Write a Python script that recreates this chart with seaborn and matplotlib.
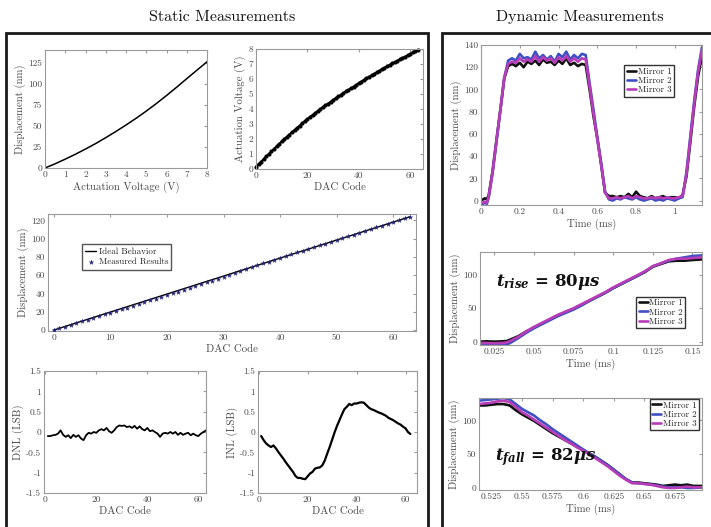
import numpy as np
import pandas as pd
import matplotlib
matplotlib.use("Agg")
import matplotlib.pyplot as plt
from matplotlib.patches import Rectangle
import seaborn as sns

# ---------------- data ----------------
volt_axis = [0, 0.5, 1, 1.5, 2, 2.5, 3, 3.5, 4, 4.5, 5, 5.5, 6, 6.5, 7, 7.5, 8]
disp_vs_volt = [0, 5, 10.5, 16.3, 22.5, 29, 36, 43.3, 51, 59, 67.5, 76.5, 86, 95.8, 106, 116, 126]

dac_codes = list(range(64))
volt_vs_code = [0.15, 0.33, 0.5, 0.67, 0.84, 1.0, 1.17, 1.34, 1.51, 1.67, 1.84, 2.0, 2.15, 2.30,
                2.45, 2.60, 2.75, 2.90, 3.05, 3.19, 3.33, 3.47, 3.60, 3.73, 3.87, 4.0, 4.12, 4.24,
                4.36, 4.48, 4.60, 4.72, 4.84, 4.95, 5.06, 5.17, 5.28, 5.39, 5.50, 5.61, 5.72, 5.83,
                5.95, 6.05, 6.15, 6.25, 6.35, 6.45, 6.55, 6.65, 6.75, 6.85, 6.95, 7.04, 7.13, 7.22,
                7.31, 7.40, 7.49, 7.58, 7.67, 7.77, 7.86, 7.95]

ideal_codes = [0, 63]
ideal_disp = [0, 124.1]
measured_disp = [0, 1.8, 3.7, 5.6, 7.5, 9.4, 11.4, 13.3, 15.2, 17.1, 19.0, 20.9, 22.8, 24.7, 26.6,
                 28.5, 30.5, 32.5, 34.4, 36.3, 38.3, 40.3, 42.2, 44.2, 46.1, 48.1, 50.1, 52.1, 54.2,
                 56.3, 58.4, 60.6, 62.6, 64.7, 66.8, 68.9, 70.9, 72.9, 74.9, 76.9, 78.9, 80.9, 82.9,
                 84.9, 86.8, 88.8, 90.7, 92.7, 94.7, 96.6, 98.6, 100.6, 102.5, 104.5, 106.5, 108.5,
                 110.4, 112.4, 114.4, 116.3, 118.3, 120.2, 122.2, 124.1]

dnl_codes = list(range(1, 64))
dnl = [-0.1, -0.1, -0.08, -0.07, -0.04, 0.04, -0.07, -0.12, -0.08, -0.15, -0.07, -0.12, -0.08,
       -0.16, -0.2, -0.08, -0.02, -0.04, 0.0, -0.02, 0.04, 0.07, 0.04, 0.1, 0.02, -0.02, 0.04,
       0.12, 0.16, 0.15, 0.16, 0.12, 0.14, 0.1, 0.15, 0.08, 0.14, 0.07, 0.04, 0.1, 0.02, 0.04,
       0.0, -0.04, -0.12, -0.04, -0.02, -0.04, 0.0, -0.04, 0.0, -0.07, -0.02, -0.07, -0.04,
       -0.02, -0.08, -0.04, -0.08, -0.1, -0.04, 0.0, 0.04]

inl_codes = list(range(1, 63))
inl = [-0.1, -0.2, -0.28, -0.33, -0.37, -0.33, -0.4, -0.49, -0.57, -0.65, -0.74, -0.82, -0.9,
       -0.98, -1.08, -1.13, -1.13, -1.15, -1.16, -1.09, -1.02, -0.98, -0.9, -0.88, -0.87, -0.82,
       -0.7, -0.53, -0.37, -0.19, -0.01, 0.15, 0.29, 0.43, 0.56, 0.62, 0.69, 0.66, 0.70, 0.70,
       0.72, 0.73, 0.72, 0.66, 0.6, 0.56, 0.54, 0.51, 0.48, 0.46, 0.43, 0.40, 0.35, 0.32, 0.29,
       0.25, 0.21, 0.18, 0.13, 0.09, 0.0, -0.05]

mirror_names = ["Mirror 1", "Mirror 2", "Mirror 3"]
mirror_colors = ["#111111", "#3f4fc4", "#b83cb8"]

t_full = [0, 0.01, 0.02, 0.03, 0.04, 0.06, 0.08, 0.1, 0.12, 0.14, 0.16, 0.18, 0.2, 0.22, 0.24,
          0.26, 0.28, 0.3, 0.32, 0.34, 0.36, 0.38, 0.4, 0.42, 0.44, 0.46, 0.48, 0.5, 0.52, 0.54,
          0.56, 0.58, 0.6, 0.62, 0.64, 0.66, 0.68, 0.7, 0.72, 0.74, 0.76, 0.78, 0.8, 0.82, 0.84,
          0.86, 0.88, 0.9, 0.92, 0.94, 0.96, 0.98, 1.0, 1.02, 1.04, 1.06, 1.08, 1.1, 1.12, 1.14]
full_m1 = [0, 1, 2, 1, 5, 27, 55, 82, 110, 121, 123, 121, 124, 120, 125, 123, 126, 122, 127, 124,
           125, 122, 126, 123, 128, 122, 124, 121, 123, 122, 100, 76, 56, 32, 7, 4, 4, 3, 4, 3,
           6, 3, 8, 4, 3, 2, 4, 2, 3, 4, 2, 3, 3, 2, 5, 22, 53, 85, 112, 130]
full_m2 = [-3, -3, -2, -3, 3, 25, 53, 81, 110, 126, 128, 126, 132, 128, 129, 127, 134, 128, 131,
           127, 130, 125, 132, 129, 134, 127, 131, 128, 132, 131, 106, 82, 57, 34, 8, 1, 0, 2, 1,
           3, 2, 1, 3, 1, 0, 1, 2, 0, 1, 0, 2, 1, 0, 2, 3, 26, 58, 90, 118, 138]
full_m3 = [-2, -2, -1, -2, 4, 26, 54, 82, 111, 123, 125, 124, 128, 125, 127, 125, 130, 125, 129,
           126, 128, 124, 129, 126, 130, 125, 128, 125, 128, 127, 103, 78, 55, 32, 7, 2, 2, 3, 2,
           3, 4, 2, 4, 3, 2, 2, 3, 2, 3, 2, 3, 2, 2, 3, 4, 24, 56, 88, 116, 136]

t_rise_axis = [0.016, 0.02, 0.025, 0.03, 0.033, 0.035, 0.04, 0.045, 0.05, 0.055, 0.06, 0.065,
               0.07, 0.075, 0.08, 0.085, 0.09, 0.095, 0.1, 0.105, 0.11, 0.115, 0.12, 0.125, 0.13,
               0.135, 0.14, 0.145, 0.15, 0.156]
rise_m1 = [0, 0.5, 0, 0.5, 1, 3, 8, 15, 21, 27, 33, 39, 44, 49, 55, 61, 67, 73, 80, 86, 92, 98,
           104, 112, 116, 120, 121, 121, 122, 123]
rise_m2 = [-5, -5, -5, -4.5, -4, -2, 5, 13, 20, 26, 32, 38, 43, 48, 54, 61, 67, 73, 80, 86, 92,
           98, 105, 112, 117, 121, 124, 126, 128, 129]
rise_m3 = [-2, -2, -2.5, -2, -1, 1, 7, 15, 22, 28, 34, 40, 45, 50, 56, 62, 68, 74, 81, 87, 93,
           99, 105, 113, 117, 122, 124, 124, 125, 126]

t_fall_axis = [0.515, 0.52, 0.525, 0.53, 0.535, 0.54, 0.545, 0.55, 0.555, 0.56, 0.565, 0.57,
               0.575, 0.58, 0.585, 0.59, 0.595, 0.6, 0.605, 0.61, 0.615, 0.62, 0.625, 0.63,
               0.635, 0.64, 0.645, 0.65, 0.655, 0.66, 0.665, 0.67, 0.675, 0.68, 0.685, 0.69, 0.697]
fall_m1 = [122, 122, 123, 124, 124, 122, 115, 109, 104, 99, 93, 87, 81, 76, 71, 66, 61, 56, 51,
           46, 40, 34, 27, 20, 13, 8, 8, 7, 6, 5, 3, 4, 5, 4, 5, 3, 3]
fall_m2 = [129, 130, 131, 132, 133, 131, 124, 117, 112, 107, 100, 94, 87, 81, 75, 69, 63, 57, 51,
           46, 40, 34, 27, 20, 13, 8, 7, 6, 5, 4, 2, 1, 1, 1, 0, 0, 1]
fall_m3 = [124, 125, 126, 128, 129, 127, 120, 112, 107, 101, 95, 89, 83, 77, 71, 66, 60, 55, 50,
           44, 38, 32, 25, 18, 12, 7, 7, 6, 5, 3, 1, 0, 0, 1, 2, 1, 1]

# ---------------- style ----------------
sns.set_style("white")
plt.rcParams.update({
    "font.family": ["cmr10", "DejaVu Serif"],
    "mathtext.fontset": "cm",
    "axes.formatter.use_mathtext": True,
    "axes.unicode_minus": False,
    "axes.edgecolor": "#9a9a9a",
    "axes.linewidth": 0.8,
    "xtick.direction": "in",
    "ytick.direction": "in",
    "xtick.top": True,
    "ytick.right": True,
    "xtick.color": "#9a9a9a",
    "ytick.color": "#9a9a9a",
    "xtick.labelcolor": "#4a4a4a",
    "ytick.labelcolor": "#4a4a4a",
    "xtick.major.size": 2.5,
    "ytick.major.size": 2.5,
    "xtick.major.pad": 2,
    "ytick.major.pad": 2,
    "xtick.labelsize": 6.8,
    "ytick.labelsize": 6.8,
    "axes.labelsize": 7.8,
    "axes.labelcolor": "#4a4a4a",
    "axes.labelpad": 1.5,
})

W, H = 711, 527
fig = plt.figure(figsize=(W / 100, H / 100), dpi=100)


def add_ax(l, t, r, b):
    return fig.add_axes([l / W, 1 - b / H, (r - l) / W, (b - t) / H])


def fmt_ticks(ax, ticks, labels, axis="x"):
    if axis == "x":
        ax.set_xticks(ticks)
        ax.set_xticklabels(labels)
    else:
        ax.set_yticks(ticks)
        ax.set_yticklabels(labels)


# Panel 1: displacement vs voltage
ax1 = add_ax(45, 50, 207, 168)
sns.lineplot(x=volt_axis, y=disp_vs_volt, ax=ax1, color="black", lw=1.1)
ax1.set_xlim(0, 8)
ax1.set_ylim(0, 140)
fmt_ticks(ax1, range(0, 9), [str(i) for i in range(9)], "x")
fmt_ticks(ax1, range(0, 126, 25), [str(i) for i in range(0, 126, 25)], "y")
ax1.set_xlabel("Actuation Voltage (V)")
ax1.set_ylabel("Displacement (nm)")

# Panel 2: voltage vs DAC code
ax2 = add_ax(256, 49, 423, 169)
sns.lineplot(x=dac_codes, y=volt_vs_code, ax=ax2, color="black", lw=1.4, marker="o",
             markersize=3, markeredgewidth=0, clip_on=False)
ax2.set_xlim(0, 65)
ax2.set_ylim(0, 8)
fmt_ticks(ax2, [0, 20, 40, 60], ["0", "20", "40", "60"], "x")
fmt_ticks(ax2, range(0, 9), [str(i) for i in range(9)], "y")
ax2.set_xlabel("DAC Code")
ax2.set_ylabel("Actuation Voltage (V)")

# Panel 3: ideal vs measured
ax3 = add_ax(48, 214, 416, 331)
sns.lineplot(x=ideal_codes, y=ideal_disp, ax=ax3, color="black", lw=1.0, label="Ideal Behavior")
sns.scatterplot(x=dac_codes, y=measured_disp, ax=ax3, color="#23237a", marker="*", s=18,
                linewidth=0, label="Measured Results", zorder=3)
ax3.set_xlim(-1, 64)
ax3.set_ylim(-1, 127)
fmt_ticks(ax3, range(0, 61, 10), [str(i) for i in range(0, 61, 10)], "x")
fmt_ticks(ax3, range(0, 121, 20), [str(i) for i in range(0, 121, 20)], "y")
ax3.set_xlabel("DAC Code")
ax3.set_ylabel("Displacement (nm)")
ax3.legend(loc="upper left", bbox_to_anchor=(0.08, 0.78), fontsize=6.5, frameon=True,
           fancybox=False, edgecolor="#555555", handlelength=1.2, handletextpad=0.3,
           borderpad=0.35, labelspacing=0.25, framealpha=1)

lsb_ticks = [-1.5, -1, -0.5, 0, 0.5, 1, 1.5]
lsb_labels = ["-1.5", "-1", "-0.5", "0", "0.5", "1", "1.5"]

# Panel 4: DNL
ax4 = add_ax(44, 371, 206, 493)
sns.lineplot(x=dnl_codes, y=dnl, ax=ax4, color="black", lw=1.3)
ax4.set_xlim(-0.5, 63)
ax4.set_ylim(-1.5, 1.5)
fmt_ticks(ax4, [0, 20, 40, 60], ["0", "20", "40", "60"], "x")
fmt_ticks(ax4, lsb_ticks, lsb_labels, "y")
ax4.set_xlabel("DAC Code")
ax4.set_ylabel("DNL (LSB)")

# Panel 5: INL
ax5 = add_ax(258, 371, 417, 493)
sns.lineplot(x=inl_codes, y=inl, ax=ax5, color="black", lw=1.6)
ax5.set_xlim(-0.3, 64.7)
ax5.set_ylim(-1.5, 1.5)
fmt_ticks(ax5, [0, 20, 40, 60], ["0", "20", "40", "60"], "x")
fmt_ticks(ax5, lsb_ticks, lsb_labels, "y")
ax5.set_xlabel("DAC Code")
ax5.set_ylabel("INL (LSB)")


def mirror_plot(ax, t, series):
    for name, col, ys in zip(mirror_names, mirror_colors, series):
        sns.lineplot(x=t, y=ys, ax=ax, color=col, lw=1.9, label=name, sort=False,
                     estimator=None)


leg_kw = dict(fontsize=6.5, frameon=True, fancybox=False, edgecolor="#333333",
              handlelength=1.0, handletextpad=0.2, borderpad=0.25, labelspacing=0.1,
              framealpha=1, borderaxespad=0.1)

# Dynamic 1
ad1 = add_ax(481, 45, 702, 205)
mirror_plot(ad1, t_full, [full_m1, full_m2, full_m3])
ad1.set_xlim(0, 1.14)
ad1.set_ylim(-4, 140)
fmt_ticks(ad1, [0, 0.2, 0.4, 0.6, 0.8, 1.0], ["0", "0.2", "0.4", "0.6", "0.8", "1"], "x")
fmt_ticks(ad1, range(0, 141, 20), [str(i) for i in range(0, 141, 20)], "y")
ad1.set_xlabel("Time (ms)")
ad1.set_ylabel("Displacement (nm)")
ad1.legend(loc="upper left", bbox_to_anchor=(0.645, 0.88), **leg_kw)

# Dynamic 2 (rise)
ad2 = add_ax(480, 252, 702, 345)
mirror_plot(ad2, t_rise_axis, [rise_m1, rise_m2, rise_m3])
ad2.set_xlim(0.016, 0.156)
ad2.set_ylim(-5, 134)
fmt_ticks(ad2, [0.025, 0.05, 0.075, 0.1, 0.125, 0.15],
          ["0.025", "0.05", "0.075", "0.1", "0.125", "0.15"], "x")
fmt_ticks(ad2, [0, 50, 100], ["0", "50", "100"], "y")
ad2.set_xlabel("Time (ms)")
ad2.set_ylabel("Displacement (nm)")
ad2.legend(loc="upper left", bbox_to_anchor=(0.70, 0.53), **leg_kw)
ad2.text(0.07, 0.68, r"$\mathbfit{t_{rise}}\mathbf{\,=\,80}\mathbfit{\mu s}$",
         transform=ad2.transAxes, fontsize=12, va="center", ha="left", color="#111111",
         math_fontfamily="dejavuserif")

# Dynamic 3 (fall)
ad3 = add_ax(479, 398, 702, 490)
mirror_plot(ad3, t_fall_axis, [fall_m1, fall_m2, fall_m3])
ad3.set_xlim(0.515, 0.697)
ad3.set_ylim(-3, 133)
fmt_ticks(ad3, [0.525, 0.55, 0.575, 0.6, 0.625, 0.65, 0.675],
          ["0.525", "0.55", "0.575", "0.6", "0.625", "0.65", "0.675"], "x")
fmt_ticks(ad3, [0, 50, 100], ["0", "50", "100"], "y")
ad3.set_xlabel("Time (ms)")
ad3.set_ylabel("Displacement (nm)")
ad3.legend(loc="upper right", bbox_to_anchor=(0.99, 1.0), **leg_kw)
ad3.text(0.07, 0.36, r"$\mathbfit{t_{fall}}\mathbf{\,=\,82}\mathbfit{\mu s}$",
         transform=ad3.transAxes, fontsize=12, va="center", ha="left", color="#111111",
         math_fontfamily="dejavuserif")

# group boxes and titles
for (x0, x1) in [(5.5, 427.5), (441.5, 720)]:
    rect = Rectangle((x0 / W, -0.02), (x1 - x0) / W, (1 - 33 / H) + 0.02,
                     transform=fig.transFigure, fill=False, edgecolor="#1a1a1a", lw=2.0,
                     clip_on=False)
    fig.add_artist(rect)

fig.text(222 / W, 1 - 17 / H, "Static Measurements", ha="center", va="center",
         fontsize=11.5, color="#111111")
fig.text(580 / W, 1 - 17 / H, "Dynamic Measurements", ha="center", va="center",
         fontsize=11.5, color="#111111")

fig.savefig("out.png", dpi=100)
